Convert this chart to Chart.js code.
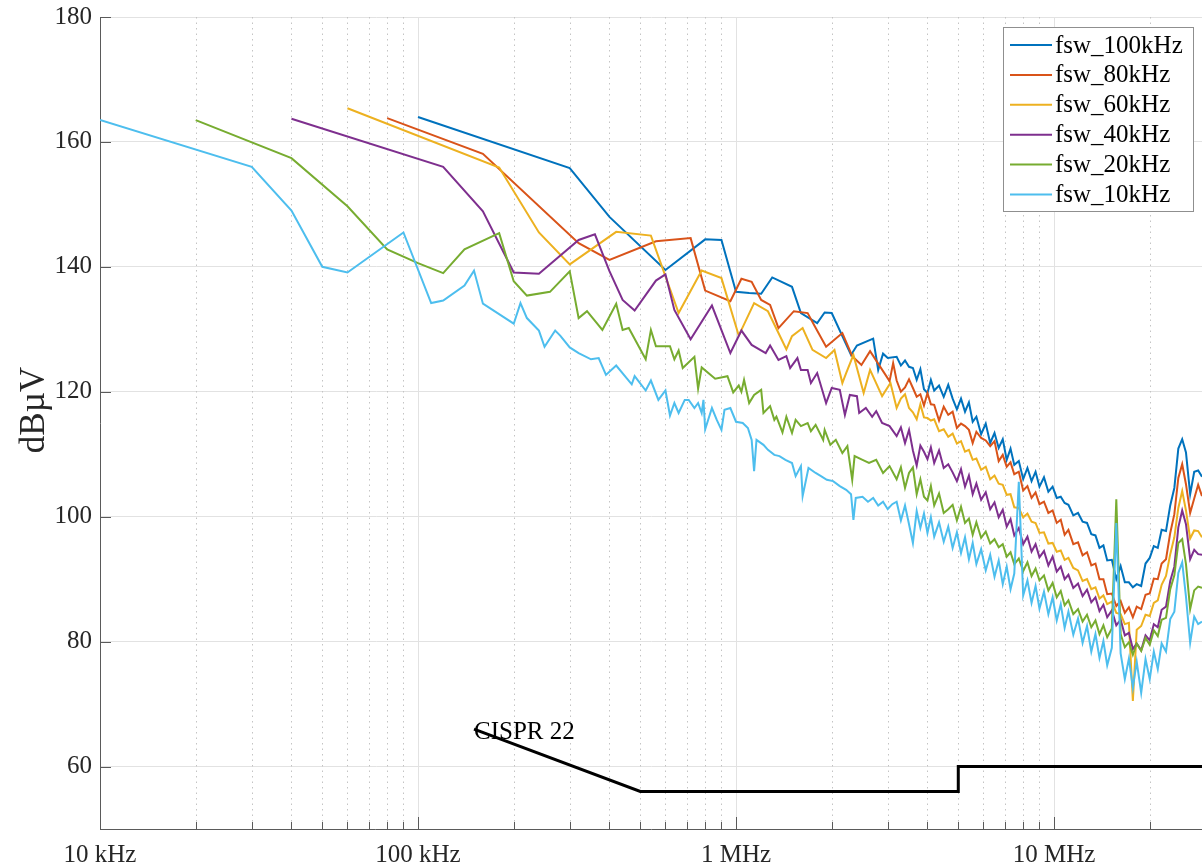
<!DOCTYPE html>
<html>
<head>
<meta charset="utf-8">
<script src="https://cdn.jsdelivr.net/npm/chart.js@4.4.0/dist/chart.umd.min.js"></script>
<style>
  html, body { margin: 0; padding: 0; background: #fff; }
  #wrap { width: 1202px; height: 867px; }
</style>
</head>
<body>
<div id="wrap"><canvas id="emiChart"></canvas></div>
<script>
// Conducted emission spectra, one trace per switching frequency (x in kHz, y in dBuV)

const seriesLabels = ['fsw_100kHz', 'fsw_80kHz', 'fsw_60kHz', 'fsw_40kHz', 'fsw_20kHz', 'fsw_10kHz'];
const seriesColors = ['#0072BD', '#D95319', '#EDB120', '#7E2F8E', '#77AC30', '#4DBEEE'];

// resolved harmonics below ~3 MHz (kHz / dBuV)
const f100 = [100,300,400,600,800,900,1000,1100,1200,1300,1500,1600,1800,1900,2000,2300,2400,2700,2800,2900,3000];
const db100 = [164,155.8,148,139.5,144.4,144.3,136,135.8,135.7,138.3,136.8,132.6,131,132.7,132.6,125.9,127.4,128.5,123.5,126.1,125.4];

const f80 = [80,160,320,400,560,720,800,960,1040,1120,1200,1280,1360,1520,1680,1760,1920,2160,2320,2480,2640,3040,3120];
const db80 = [163.8,158.1,143.8,141.1,144.1,144.6,136.2,134.5,138.1,137.6,134.7,133.9,130.2,132.9,132.6,130.7,127.2,129.4,125.7,124.3,126.5,121.7,124.6];

const f60 = [60,180,240,300,420,540,660,780,900,1020,1140,1260,1440,1500,1620,1740,1920,2040,2160,2220,2340,2520,2640,2880,3060];
const db60 = [165.4,155.9,145.5,140.4,145.6,145,132.6,139.4,138.2,129,134.2,132.9,126.8,128.9,130.2,126.7,125.4,126.7,121.4,123,125.9,119.8,123.5,119.3,121.4];

const f40 = [40,120,160,200,240,320,360,400,440,480,560,600,640,720,840,960,1040,1120,1240,1280,1360,1440,1480,1560,1600,1680,1720,1800,1920,2000,2120,2200,2280,2400,2440,2560,2680,2760,2880,3040];
const db40 = [163.7,156,148.9,139.1,138.9,144.3,145.2,139.3,134.7,133,137.8,138.8,133.1,128.4,133.8,126.2,129.8,127.5,126.2,127.4,125.1,125.7,123.8,125.4,123.5,123.5,121.4,123,118.2,120.6,120.3,116.3,119.5,119.3,116.6,117.4,116,116.9,115,114.5];

const f20 = [20,40,60,80,100,120,140,180,200,220,260,300,320,340,380,420,440,460,520,540,560,620,640,660,680,740,760,780,860,940,980,1020,1040,1060,1100,1140,1200,1220,1280,1320,1340,1400,1440,1500,1540,1600,1680,1720,1780,1880,1900,1980,2060,2160,2240,2320,2360,2500,2620,2760,2900,3040];
const db20 = [163.5,157.4,149.7,142.8,140.6,139,142.8,145.4,137.7,135.4,136,139.3,131.8,132.9,129.9,134.1,129.9,130.2,125.2,129.9,127.3,127.3,125.2,126.6,123.8,125.6,120.5,123.9,122.1,122.5,119.9,121,120,121.9,118.2,119.5,120.3,116.6,117.7,115.5,116,113.5,116,113.4,115.5,114.5,115,113.7,114.7,112.3,113.9,111.5,112.3,110.2,111.3,105.9,109.7,109.1,108.6,109.1,107,108.1];

const f10 = [10,30,40,50,60,90,110,120,140,150,160,200,210,220,240,250,270,280,300,320,350,370,390,420,470,480,520,540,570,600,620,640,660,690,710,740,760,780,790,800,840,870,900,920,960,1000,1050,1090,1120,1140,1160,1220,1260,1320,1370,1430,1500,1540,1600,1620,1690,1780,1850,1930,2020,2120,2220,2300,2340,2380,2500,2600,2700,2800,2900,3000,3100];
const db10 = [163.5,156,149,140,139.1,145.5,134.2,134.6,137,139.4,134.1,130.9,134.2,131.8,129.8,127.2,129.8,129,127.1,126.2,125.2,125.4,122.7,124.2,121.2,122.5,120.2,121.8,118.7,120.2,116.2,118.2,116.6,118.7,118.7,117.4,118.2,116.6,118.7,114,117.4,115.5,113.9,117.1,117.4,115.2,115,114.2,112.3,107.3,112.3,111.5,110.7,109.9,109.7,109.1,108.6,106.5,108.1,103.3,107.8,107,106.5,105.9,105.7,104.9,104.3,103.6,99.5,103,103.2,102.4,103,101.8,102.4,101.2,102];

// dense part of the sweep, shared frequency points (MHz)
const hiFreqMHz = [
  3.2, 3.3, 3.4, 3.5, 3.6, 3.7, 3.8, 3.9, 4.0, 4.1,
  4.2, 4.35, 4.5, 4.65, 4.8, 4.95, 5.1, 5.25, 5.4, 5.55,
  5.7, 5.9, 6.1, 6.3, 6.5, 6.7, 6.9, 7.1, 7.3, 7.5,
  7.75, 8.0, 8.25, 8.5, 8.75, 9.0, 9.3, 9.6, 9.9, 10.2,
  10.5, 10.8, 11.1, 11.5, 11.9, 12.3, 12.7, 13.1, 13.5, 13.9,
  14.3, 14.7, 15.2, 15.7, 16.2, 16.7, 17.2, 17.7, 18.2, 18.8,
  19.4, 20.0, 20.6, 21.2, 21.8, 22.5, 23.2, 23.9, 24.6, 25.3,
  26.0, 26.8, 27.6, 28.4, 29.2, 30.0
];

const hi100 = [
  125.6, 124.2, 125.0, 124.0, 123.8, 121.9, 123.6, 120.4, 119.8, 121.9,
  120.2, 121.0, 119.2, 121.1, 118.9, 117.2, 118.9, 116.8, 118.3, 115.2,
  116.0, 113.2, 114.9, 111.8, 113.4, 111.0, 112.4, 109.1, 110.9, 108.3,
  108.9, 106.0, 107.8, 105.7, 107.2, 104.8, 106.3, 104.0, 104.8, 103.0,
  103.2, 102.2, 101.9, 100.2, 100.6, 99.2, 99.0, 97.2, 97.0, 95.0,
  95.4, 93.0, 93.1, 90.0, 92.1, 89.5, 89.5, 88.7, 89.2, 88.9,
  92.5, 93.4, 95.3, 95.0, 97.9, 97.7, 101.8, 104.6, 110.9, 112.4,
  110.3, 103.6, 107.2, 107.4, 106.4, 104.2
];
const hi80 = [
  121.8, 120.0, 120.7, 122.0, 120.6, 119.2, 119.6, 117.8, 119.8, 118.0,
  117.9, 115.4, 117.6, 116.3, 116.8, 114.2, 114.9, 114.5, 113.9, 111.8,
  113.6, 112.6, 112.2, 111.3, 112.1, 108.9, 109.9, 108.0, 108.7, 106.8,
  107.2, 104.2, 104.9, 103.0, 103.9, 102.0, 102.4, 100.6, 101.0, 99.0,
  99.5, 97.1, 97.9, 95.6, 95.9, 93.8, 94.3, 92.2, 92.5, 90.0,
  90.0, 87.6, 87.7, 85.7, 86.5, 84.6, 85.5, 83.9, 85.6, 85.2,
  87.5, 87.7, 90.1, 90.0, 92.5, 93.2, 97.4, 100.4, 106.2, 108.4,
  105.2, 100.6, 102.9, 105.1, 103.3, 100.9
];
const hi60 = [
  117.4, 118.9, 119.6, 117.4, 116.7, 115.6, 118.0, 115.9, 115.8, 115.4,
  115.6, 113.7, 114.0, 112.8, 113.3, 111.7, 112.1, 110.4, 110.7, 109.1,
  109.3, 107.5, 108.0, 106.0, 106.6, 105.3, 105.1, 103.5, 103.6, 101.5,
  101.4, 99.9, 100.5, 99.2, 99.0, 97.4, 97.5, 95.7, 95.8, 94.4,
  94.6, 93.1, 93.4, 91.8, 91.4, 89.7, 90.0, 88.4, 88.7, 86.9,
  87.4, 86.0, 86.4, 84.6, 84.4, 82.8, 83.0, 70.5, 81.9, 82.5,
  84.3, 84.1, 86.2, 86.6, 89.1, 90.5, 94.0, 96.7, 101.4, 104.1,
  101.0, 96.5, 97.8, 97.7, 96.7, 95.0
];
const hi40 = [
  112.9, 114.3, 111.8, 113.9, 110.6, 108.2, 111.4, 110.4, 109.2, 111.1,
  108.6, 110.6, 107.8, 108.4, 107.1, 105.7, 107.6, 104.8, 106.6, 103.6,
  105.3, 102.7, 103.9, 101.2, 102.3, 99.9, 101.1, 98.4, 99.6, 97.0,
  98.2, 95.6, 96.8, 94.4, 95.6, 93.5, 94.5, 92.2, 93.6, 91.2,
  92.0, 90.0, 90.7, 88.6, 89.3, 87.3, 88.3, 86.3, 87.1, 84.9,
  85.9, 83.9, 85.0, 82.6, 83.5, 81.0, 81.4, 78.8, 79.7, 78.6,
  81.0, 80.2, 82.8, 82.3, 85.1, 85.6, 89.7, 92.0, 98.3, 101.0,
  98.8, 93.2, 94.7, 94.0, 93.9, 91.6
];
const hi20 = [
  106.0, 107.9, 104.6, 107.0, 107.9, 103.6, 106.0, 103.2, 102.6, 104.9,
  101.8, 103.7, 100.6, 101.2, 101.9, 99.4, 101.6, 99.0, 99.7, 97.1,
  99.1, 96.6, 97.6, 95.7, 96.4, 95.1, 95.6, 93.6, 94.3, 92.4,
  93.3, 91.3, 92.7, 90.5, 91.7, 89.8, 90.6, 88.2, 89.4, 87.1,
  88.1, 85.8, 86.6, 84.4, 85.2, 83.2, 84.3, 82.3, 83.4, 81.2,
  82.6, 80.7, 82.1, 102.8, 81.2, 79.1, 79.9, 77.9, 79.7, 78.5,
  80.6, 79.5, 81.8, 80.9, 83.5, 83.8, 88.4, 90.6, 95.8, 96.4,
  92.4, 85.2, 88.2, 88.8, 88.6, 86.2
];
const hi10 = [
  102.4, 99.4, 101.8, 98.8, 95.8, 100.9, 98.2, 100.5, 97.4, 99.9,
  96.8, 99.1, 96.0, 98.4, 95.0, 97.5, 94.2, 96.7, 93.2, 95.8,
  92.4, 94.8, 91.4, 93.9, 90.4, 93.0, 89.2, 92.0, 88.4, 90.9,
  105.6, 87.4, 89.8, 86.2, 88.9, 85.3, 88.0, 84.4, 87.1, 83.4,
  86.0, 82.2, 84.8, 81.1, 83.7, 79.8, 82.5, 78.4, 81.2, 77.4,
  80.1, 76.2, 79.0, 99.0, 78.1, 74.0, 77.3, 72.6, 76.8, 71.8,
  77.2, 74.0, 78.4, 75.6, 79.7, 78.4, 83.6, 84.8, 91.0, 92.7,
  87.2, 79.8, 84.0, 82.8, 83.2, 80.8
];

// CISPR 22 limit line
const cisprFreq = [150, 500, 5000, 5000, 30000];
const cisprDb = [66, 56, 56, 60, 60];

// axis ticks
const xTickValues = [10, 100, 1000, 10000];
const xTickLabels = ['10 kHz', '100 kHz', '1 MHz', '10 MHz'];
const yTickValues = [60, 80, 100, 120, 140, 160, 180];
const xMin = 10, xMax = 29200, yMin = 50, yMax = 180;

const serif = "'Liberation Serif', 'Times New Roman', serif";
const textColor = '#262626';
const axisColor = '#5a5a5a';

function trace(lowF, lowDb, hiDb) {
    const pts = lowF.map((f, i) => ({x: f, y: lowDb[i]}));
    hiFreqMHz.forEach((f, i) => pts.push({x: f * 1000, y: hiDb[i]}));
    return pts;
}

const traces = [
    trace(f100, db100, hi100),
    trace(f80, db80, hi80),
    trace(f60, db60, hi60),
    trace(f40, db40, hi40),
    trace(f20, db20, hi20),
    trace(f10, db10, hi10)
];

const datasets = traces.map((pts, i) => ({
    label: seriesLabels[i],
    data: pts,
    borderColor: seriesColors[i],
    backgroundColor: seriesColors[i],
    borderWidth: 2,
    pointRadius: 0,
    tension: 0,
    fill: false,
    order: seriesLabels.length - i
}));
datasets.push({
    label: 'CISPR 22',
    data: cisprFreq.map((f, i) => ({x: f, y: cisprDb[i]})),
    borderColor: '#000000',
    borderWidth: 3,
    pointRadius: 0,
    tension: 0,
    fill: false,
    order: 0
});

// minor decade positions 2..9 for the dotted grid and small ticks
const xMinor = [];
[10, 100, 1000, 10000].forEach(d => {
    for (let k = 2; k <= 9; k++) {
        if (d * k < xMax) xMinor.push(d * k);
    }
});

// dotted minor grid, inward tick marks, y label, limit label
const axesExtras = {
    id: 'axesExtras',
    beforeDatasetsDraw(chart) {
        const {ctx, chartArea: a, scales: {x}} = chart;
        ctx.save();
        ctx.strokeStyle = '#c4c4c4';
        ctx.lineWidth = 1;
        ctx.setLineDash([1.5, 4]);
        xMinor.forEach(v => {
            const px = Math.round(x.getPixelForValue(v)) + 0.5;
            ctx.beginPath();
            ctx.moveTo(px, a.top);
            ctx.lineTo(px, a.bottom);
            ctx.stroke();
        });
        ctx.restore();
    },
    afterDatasetsDraw(chart) {
        const {ctx, chartArea: a, scales: {x, y}} = chart;
        ctx.save();
        ctx.strokeStyle = axisColor;
        ctx.lineWidth = 1;
        ctx.beginPath();
        xTickValues.forEach(v => {
            const px = Math.round(x.getPixelForValue(v)) + 0.5;
            ctx.moveTo(px, a.bottom);
            ctx.lineTo(px, a.bottom - 12);
        });
        xMinor.forEach(v => {
            const px = Math.round(x.getPixelForValue(v)) + 0.5;
            ctx.moveTo(px, a.bottom);
            ctx.lineTo(px, a.bottom - 7);
        });
        yTickValues.forEach(v => {
            const py = Math.round(y.getPixelForValue(v)) + 0.5;
            ctx.moveTo(a.left, py);
            ctx.lineTo(a.left + 11, py);
        });
        ctx.stroke();

        // y axis label
        ctx.save();
        ctx.translate(35, 410);
        ctx.rotate(-Math.PI / 2);
        ctx.fillStyle = textColor;
        ctx.font = '35px ' + serif;
        ctx.textAlign = 'center';
        ctx.textBaseline = 'middle';
        ctx.fillText('dBµV', 0, 0);
        ctx.restore();

        // label at the start of the limit line
        ctx.fillStyle = '#000000';
        ctx.font = '25px ' + serif;
        ctx.textAlign = 'left';
        ctx.textBaseline = 'middle';
        ctx.fillText('CISPR 22', x.getPixelForValue(cisprFreq[0]), y.getPixelForValue(cisprDb[0]) + 3);
        ctx.restore();
    }
};

// boxed legend in the top right corner
const boxLegend = {
    id: 'boxLegend',
    afterDraw(chart) {
        const {ctx} = chart;
        const left = 1003.5, top = 27.5, w = 190, h = 184;
        ctx.save();
        ctx.fillStyle = '#ffffff';
        ctx.fillRect(left, top, w, h);
        ctx.strokeStyle = '#8f8f8f';
        ctx.lineWidth = 1;
        ctx.strokeRect(left, top, w, h);
        ctx.font = '25px ' + serif;
        ctx.textAlign = 'left';
        ctx.textBaseline = 'middle';
        seriesLabels.forEach((lab, i) => {
            const rowY = 45 + i * 29.9;
            ctx.strokeStyle = seriesColors[i];
            ctx.lineWidth = 2;
            ctx.beginPath();
            ctx.moveTo(1010, rowY);
            ctx.lineTo(1052, rowY);
            ctx.stroke();
            ctx.fillStyle = '#000000';
            ctx.fillText(lab, 1055, rowY + 1);
        });
        ctx.restore();
    }
};

const ctx = document.getElementById('emiChart').getContext('2d');
const emiChart = new Chart(ctx, {
    type: 'line',
    data: { datasets: datasets },
    options: {
        responsive: true,
        maintainAspectRatio: false,
        animation: false,
        devicePixelRatio: 1,
        layout: { padding: { top: 17, right: 0, bottom: 0, left: 0 } },
        plugins: {
            legend: { display: false },
            tooltip: { enabled: false }
        },
        scales: {
            x: {
                type: 'logarithmic',
                min: xMin,
                max: xMax,
                afterBuildTicks: (s) => { s.ticks = xTickValues.map(v => ({value: v})); },
                afterFit: (s) => { s.height = 38; },
                ticks: {
                    autoSkip: false,
                    maxRotation: 0,
                    padding: 11,
                    color: textColor,
                    font: { family: serif, size: 25 },
                    callback: (value, index) => xTickLabels[index]
                },
                grid: { color: '#e2e2e2', lineWidth: 1, drawTicks: false },
                border: { color: axisColor, width: 1 }
            },
            y: {
                type: 'linear',
                min: yMin,
                max: yMax,
                afterBuildTicks: (s) => { s.ticks = yTickValues.map(v => ({value: v})); },
                afterFit: (s) => {
                    s.width = 100;
                    s.paddingTop = 0;
                    s.paddingBottom = 0;
                },
                ticks: {
                    padding: 8,
                    color: textColor,
                    font: { family: serif, size: 25 }
                },
                grid: { color: '#e2e2e2', lineWidth: 1, drawTicks: false },
                border: { color: axisColor, width: 1 }
            }
        }
    },
    plugins: [axesExtras, boxLegend]
});
</script>
</body>
</html>
